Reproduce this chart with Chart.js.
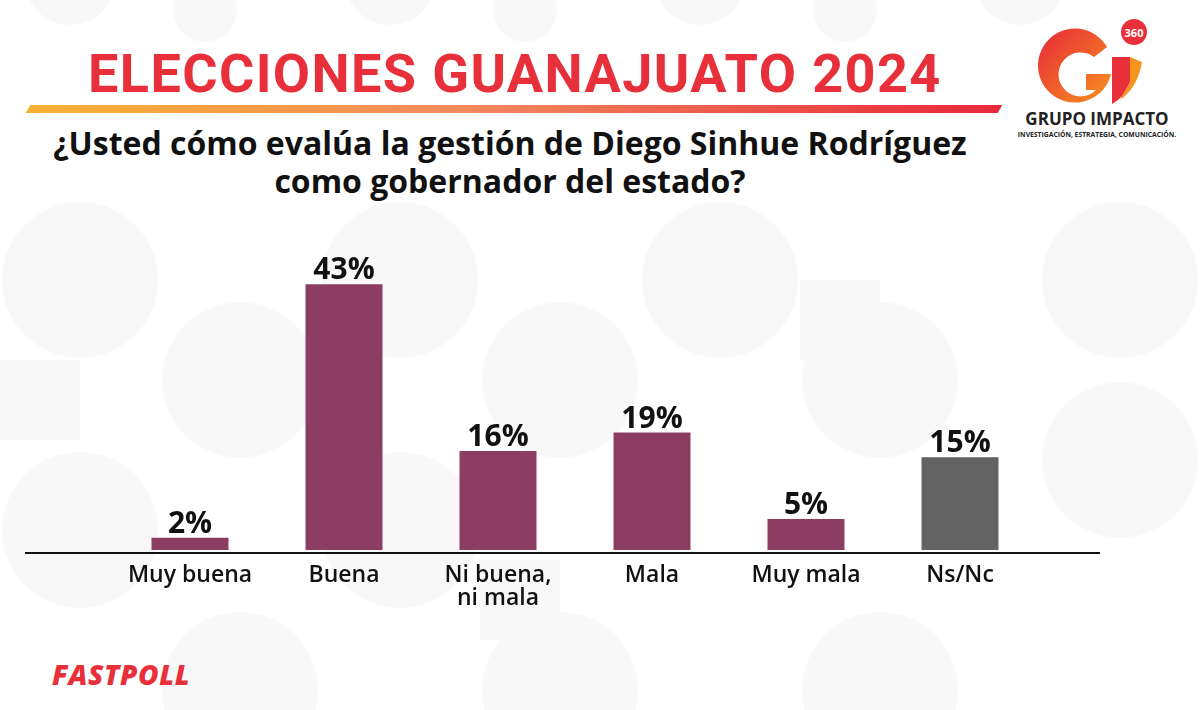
<!DOCTYPE html>
<html>
<head>
<meta charset="utf-8">
<script src="https://cdn.jsdelivr.net/npm/chart.js@4.4.1/dist/chart.umd.min.js"></script>
<style>
  html, body { margin: 0; padding: 0; }
  body { width: 1200px; height: 710px; position: relative; overflow: hidden; background: #ffffff; font-family: "Open Sans", sans-serif; }
  #bg { position: absolute; left: 0; top: 0; }
  #title { position: absolute; left: 88px; top: 42px; font-family: "Liberation Sans Narrow", "Roboto", sans-serif; font-weight: 700; font-size: 54px; color: #e8303a; letter-spacing: 1.4px; white-space: nowrap; }
  #stripe { position: absolute; left: 28px; top: 105px; width: 972px; height: 8px; transform: skewX(-30deg); background: linear-gradient(90deg, #f8b133, #f08a5d 45%, #e8283a); }
  #question { position: absolute; left: 0; width: 1020px; top: 124px; text-align: center; font-weight: 700; font-size: 32px; line-height: 38px; color: #111; }
  #fastpoll { position: absolute; left: 52px; top: 655px; font-weight: 800; font-style: italic; font-size: 28px; color: #e8303a; letter-spacing: 0.6px; }
  #chartWrap { position: absolute; left: 0; top: 0; width: 1200px; height: 710px; }
  #logo { position: absolute; left: 1000px; top: 10px; }
</style>
</head>
<body>
<svg id="bg" width="1200" height="710">
  <g fill="#f8f8f8">
    <circle cx="70" cy="-20" r="45"/><circle cx="390" cy="-20" r="45"/><circle cx="700" cy="-20" r="45"/><circle cx="1020" cy="-20" r="45"/>
    <circle cx="205" cy="10" r="32"/><circle cx="525" cy="10" r="32"/><circle cx="845" cy="10" r="32"/>
    <circle cx="80" cy="280" r="78"/><circle cx="400" cy="280" r="78"/><circle cx="720" cy="280" r="78"/><circle cx="1120" cy="280" r="78"/>
    <circle cx="240" cy="380" r="78"/><circle cx="560" cy="380" r="78"/><circle cx="880" cy="380" r="78"/>
    <circle cx="80" cy="530" r="78"/><circle cx="400" cy="530" r="78"/><circle cx="1120" cy="460" r="78"/>
    <circle cx="240" cy="690" r="78"/><circle cx="560" cy="690" r="78"/><circle cx="880" cy="690" r="78"/>
    <rect x="0" y="360" width="80" height="80"/><rect x="480" y="560" width="80" height="80"/><rect x="800" y="280" width="80" height="80"/>
  </g>
</svg>
<div id="title">ELECCIONES GUANAJUATO 2024</div>
<div id="stripe"></div>
<div id="question">¿Usted cómo evalúa la gestión de Diego Sinhue Rodríguez<br>como gobernador del estado?</div>
<div id="fastpoll">FASTPOLL</div>
<svg id="logo" width="200" height="135">
  <defs>
    <linearGradient id="lg" x1="0" y1="0" x2="1" y2="1">
      <stop offset="0" stop-color="#e8283a"/><stop offset="1" stop-color="#f7931e"/>
    </linearGradient>
  </defs>
  <path d="M107 37 A37 37 0 1 0 111 64 L86 64 L86 80 L96 80 A22 22 0 1 1 94 47 Z" fill="url(#lg)"/>
  <path d="M112 47 L130 47 L130 72 Q124 88 112 94 Z" fill="#e8303a"/>
  <path d="M130 47 L142 52 Q138 77 120 90 L130 72 Z" fill="#f7941e"/>
  <circle cx="134" cy="22" r="13" fill="#e8303a"/>
  <text x="134" y="26.5" text-anchor="middle" font-family="Open Sans" font-weight="700" font-size="11" fill="#fff">360</text>
  <text x="97" y="115" text-anchor="middle" font-family="Open Sans" font-weight="700" font-size="17" fill="#222">GRUPO IMPACTO</text>
  <text x="97" y="127" text-anchor="middle" font-family="Open Sans" font-weight="700" font-size="6.8" fill="#222">INVESTIGACIÓN, ESTRATEGIA, COMUNICACIÓN.</text>
</svg>
<div id="chartWrap"><canvas id="myChart" width="1200" height="710"></canvas></div>
<script>
// data
const categories = ['Muy buena', 'Buena', ['Ni buena,', 'ni mala'], 'Mala', 'Muy mala', 'Ns/Nc'];
const values = [2, 43, 16, 19, 5, 15];
const barColors = ['#8b3e62', '#8b3e62', '#8b3e62', '#8b3e62', '#8b3e62', '#636363'];

// draws the percent labels above bars and the long base line
const extras = {
  id: 'extras',
  afterDatasetsDraw(chart) {
    const ctx = chart.ctx;
    const meta = chart.getDatasetMeta(0);
    ctx.save();
    ctx.fillStyle = '#111';
    ctx.font = '700 30px "Open Sans"';
    ctx.textAlign = 'center';
    ctx.textBaseline = 'alphabetic';
    meta.data.forEach(function(bar, i) {
      ctx.fillText(values[i] + '%', bar.x, bar.y - 5);
    });
    const y0 = chart.scales.y.getPixelForValue(0) + 3;
    ctx.strokeStyle = '#111';
    ctx.lineWidth = 2;
    ctx.beginPath();
    ctx.moveTo(25, y0);
    ctx.lineTo(1100, y0);
    ctx.stroke();
    ctx.restore();
  }
};

const ctx = document.getElementById('myChart').getContext('2d');
new Chart(ctx, {
  type: 'bar',
  data: {
    labels: categories,
    datasets: [{
      data: values,
      backgroundColor: barColors,
      categoryPercentage: 1,
      barPercentage: 0.5
    }]
  },
  options: {
    responsive: false,
    animation: false,
    layout: { padding: { left: 113, right: 163, top: 241, bottom: 100 } },
    plugins: { legend: { display: false }, tooltip: { enabled: false } },
    scales: {
      y: { display: false, min: 0, max: 50 },
      x: {
        grid: { display: false },
        border: { display: false },
        ticks: { color: '#111', font: { family: 'Open Sans', size: 23, weight: '600', lineHeight: 1.0 }, padding: 6, maxRotation: 0 },
        afterFit(scale) { scale.height = 60; }
      }
    }
  },
  plugins: [extras]
});
</script>
</body>
</html>
